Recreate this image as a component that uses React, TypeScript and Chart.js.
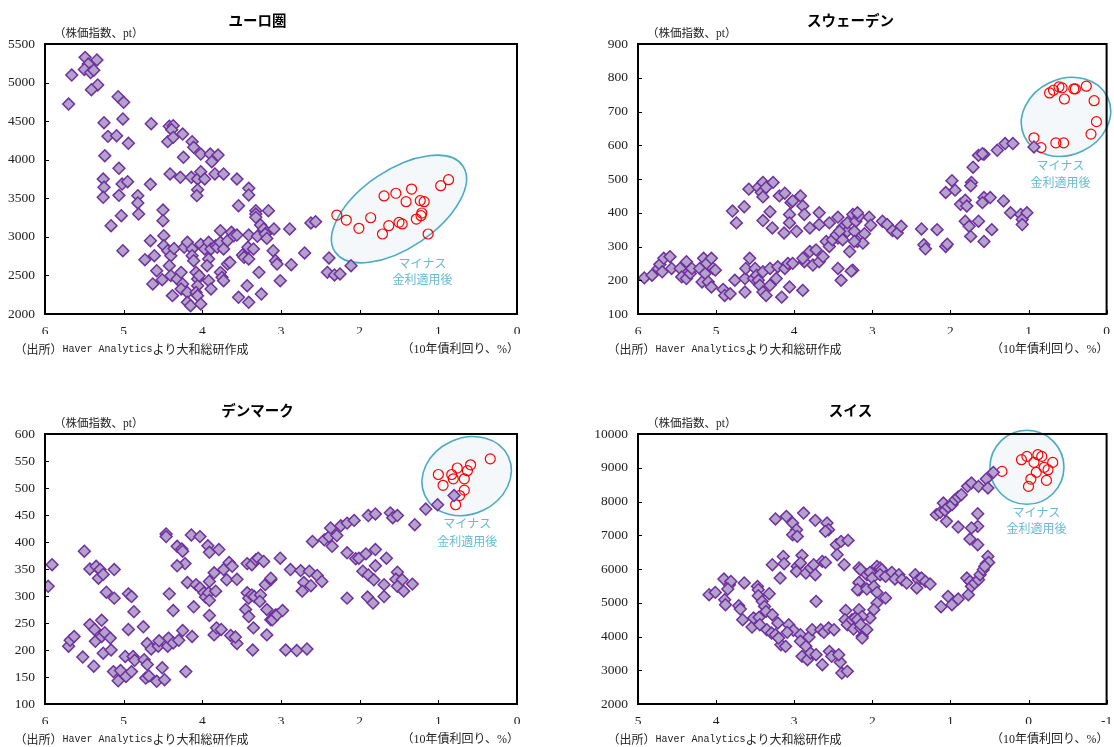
import React, { useEffect, useRef } from 'react';
import { Chart, registerables } from 'chart.js';

Chart.register(...registerables);

type Pt = [number, number];

// ---------------- data (x: 10年債利回り %, y: 株価指数 pt) ----------------
const euroBefore: Pt[] = [
  [5.49,5327],[5.34,5293],[5.66,5098],[5.45,5240],[5.50,5170],[5.42,5130],[5.38,5160],[5.33,4969],[5.41,4908],[5.70,4722],
  [5.07,4817],[5.00,4744],[5.25,4480],[5.01,4528],[5.20,4303],[5.09,4311],[4.94,4213],[5.24,4052],[5.06,3889],[5.26,3750],
  [5.25,3642],[5.26,3513],[5.02,3685],[4.95,3715],[5.06,3538],[4.82,3534],[4.66,3681],[4.65,4467],[4.42,4433],[4.37,4441],
  [4.39,4389],[4.44,4234],[4.37,4290],[4.25,4333],[4.13,4234],[4.11,4161],[4.02,4074],[3.90,4074],[3.80,4061],[3.88,3974],
  [4.24,4031],[4.41,3815],[4.28,3772],[4.14,3772],[4.06,3750],[4.02,3845],[3.97,3750],[3.84,3815],[3.73,3815],[3.56,3750],
  [3.41,3629],[3.41,3543],[4.06,3611],[4.07,3534],[5.03,3274],[5.16,3145],[5.01,2820],[4.82,3439],[4.81,3296],[4.50,3348],
  [4.50,3209],[4.73,2704],[4.66,2950],[4.61,2756],[4.58,2561],[4.63,2389],[4.49,3015],[4.49,2886],[4.44,2820],[4.40,2756],
  [4.42,2626],[4.51,2445],[4.40,2497],[4.38,2238],[4.36,2850],[4.32,2454],[4.27,2540],[4.25,2389],[4.27,2325],[4.23,2865],
  [4.19,2930],[4.13,2843],[4.13,2756],[4.11,2691],[4.19,2280],[4.19,2152],[4.15,2108],[4.08,2540],[4.06,2454],[4.06,2367],
  [4.08,2280],[4.06,2238],[4.02,2130],[4.04,2497],[4.02,2903],[3.97,2843],[3.92,2930],[3.89,2843],[3.83,2886],[3.81,2865],
  [3.77,3080],[3.77,2930],[3.73,2843],[3.92,2713],[3.94,2626],[3.92,2432],[3.89,2325],[3.77,2540],[3.75,2475],[3.73,2432],
  [3.68,2648],[3.65,2670],[3.68,2950],[3.63,3059],[3.60,3015],[3.56,3024],[3.54,2217],[3.54,3404],[3.49,2765],[3.47,2735],
  [3.42,2865],[3.41,2713],[3.43,2367],[3.41,2152],[3.41,3024],[3.35,2843],[3.32,3339],[3.32,3296],[3.32,3253],[3.30,3007],
  [3.28,2540],[3.25,2259],[3.26,3154],[3.22,3102],[3.18,3059],[3.16,3339],[3.09,3102],[3.10,2820],[3.07,2691],[3.05,2648],
  [3.01,2432],[3.20,3037],[3.18,2980],[2.89,3102],[2.87,2639],[2.70,2791],[2.62,3180],[2.56,3197],[2.39,2726],[2.41,2540],
  [2.32,2506],[2.25,2519],[2.11,2626]
];
const euroAfter: Pt[] = [
  [2.29,3283],[2.17,3218],[2.01,3111],[1.86,3248],[1.69,3530],[1.54,3565],[1.34,3620],[1.41,3456],[1.23,3470],[1.18,3456],
  [1.21,3309],[1.22,3274],[1.28,3231],[1.63,3145],[1.71,3037],[1.50,3188],[1.46,3167],[1.13,3037],[0.97,3663],[0.87,3741]
];

const swedenBefore: Pt[] = [
  [5.92,207],[5.82,215],[5.74,235],[5.72,247],[5.67,265],[5.69,225],[5.59,270],[5.57,235],[5.46,235],[5.44,210],
  [5.38,255],[5.38,205],[5.35,225],[5.33,220],[5.31,235],[5.21,235],[5.18,195],[5.16,265],[5.14,220],[5.12,250],
  [5.10,195],[5.06,265],[5.04,235],[5.01,230],[5.06,180],[4.91,173],[4.89,155],[4.82,160],[4.79,405],[4.74,370],
  [4.64,418],[4.76,200],[4.63,205],[4.63,165],[4.62,235],[4.57,265],[4.52,205],[4.58,470],[4.46,475],[4.42,460],
  [4.40,490],[4.36,475],[4.27,490],[4.40,447],[4.40,377],[4.31,403],[4.28,355],[4.50,235],[4.48,215],[4.46,200],
  [4.44,185],[4.40,225],[4.40,165],[4.36,155],[4.31,185],[4.31,235],[4.23,205],[4.21,240],[4.16,150],[4.19,450],
  [4.12,458],[4.13,340],[4.06,395],[4.06,370],[4.04,430],[4.02,435],[3.97,345],[3.92,450],[3.89,420],[3.87,395],
  [3.80,355],[3.68,400],[3.68,365],[3.55,370],[3.44,387],[3.38,357],[3.32,345],[3.44,325],[4.12,235],[4.08,250],
  [4.02,250],[4.06,180],[3.89,170],[3.87,255],[3.89,265],[3.80,285],[3.76,245],[3.72,290],[3.68,255],[3.63,270],
  [3.59,315],[3.55,300],[3.51,320],[3.46,335],[3.42,345],[3.38,320],[3.32,370],[3.25,395],[3.21,375],[3.19,315],
  [3.17,390],[3.44,235],[3.25,230],[3.40,200],[3.19,400],[3.04,387],[3.02,363],[3.23,345],[3.10,338],[3.12,310],
  [3.23,315],[3.29,285],[3.27,227],[2.87,375],[2.81,365],[2.74,347],[2.68,340],[2.63,360],[2.37,352],[2.17,350],
  [2.34,305],[2.32,293],[2.06,300],[2.04,307],[2.06,460],[1.98,495],[1.94,467],[1.73,490],[1.74,480],[1.71,535],
  [1.64,570],[1.57,573],[1.59,575],[1.40,585],[1.30,605],[1.20,605],[1.87,425],[1.81,437],[1.79,420],[1.57,445],
  [1.49,445],[1.59,430],[1.32,435],[1.23,400],[1.81,375],[1.76,360],[1.64,375],[1.74,330],[1.47,350],[1.57,315],
  [1.10,395],[1.08,380],[1.08,365],[1.02,400],[0.93,595]
];
const swedenAfter: Pt[] = [
  [0.93,622],[0.84,593],[0.65,607],[0.55,607],[0.73,755],[0.68,763],[0.61,773],[0.57,770],[0.54,737],[0.42,767],
  [0.40,767],[0.26,775],[0.16,732],[0.13,670],[0.20,633]
];

const denmarkBefore: Pt[] = [
  [5.96,318],[5.91,358],[5.50,383],[5.70,207],[5.68,218],[5.63,225],[5.52,187],[5.43,350],[5.35,355],[5.32,333],
  [5.30,349],[5.26,340],[5.22,307],[5.12,296],[5.12,349],[5.43,247],[5.37,238],[5.36,216],[5.28,255],[5.28,225],
  [5.24,232],[5.17,222],[5.38,170],[5.26,194],[5.16,200],[5.13,160],[5.07,143],[5.04,162],[4.98,188],[4.97,151],
  [4.94,238],[4.94,304],[4.90,299],[4.87,271],[4.90,160],[4.88,188],[4.86,181],[4.75,243],[4.74,182],[4.72,148],
  [4.70,173],[4.70,212],[4.68,152],[4.65,202],[4.58,142],[4.56,207],[4.55,217],[4.51,167],[4.48,145],[4.44,207],
  [4.42,304],[4.43,222],[4.37,213],[4.37,273],[4.30,218],[4.25,236],[4.22,360],[4.21,160],[4.46,415],[4.46,410],
  [4.32,392],[4.26,387],[4.25,383],[4.32,356],[4.19,325],[4.13,225],[4.11,280],[4.14,413],[4.03,410],[4.08,321],
  [4.03,315],[3.98,306],[3.96,298],[3.91,327],[3.92,306],[3.91,292],[3.83,309],[3.85,343],[3.93,393],[3.91,381],
  [3.79,386],[3.73,349],[3.66,362],[3.62,355],[3.69,330],[3.56,331],[3.91,264],[3.85,228],[3.82,241],[3.76,238],
  [3.64,227],[3.56,212],[3.58,224],[3.43,360],[3.43,306],[3.41,296],[3.45,275],[3.41,262],[3.37,358],[3.37,302],
  [3.35,241],[3.34,299],[3.36,200],[3.32,367],[3.29,370],[3.26,302],[3.27,290],[3.22,364],[3.20,321],[3.18,275],
  [3.13,330],[3.18,228],[3.13,256],[3.07,265],[3.01,370],[3.13,333],[3.11,256],[3.05,265],[2.98,273],[2.94,200],
  [2.80,199],[2.67,202],[2.88,349],[2.75,347],[2.64,346],[2.54,338],[2.48,327],[2.71,325],[2.73,309],[2.62,319],
  [2.60,401],[2.45,404],[2.39,410],[2.37,426],[2.29,412],[2.35,392],[2.24,430],[2.16,435],[2.07,440],[2.16,380],
  [2.05,369],[2.01,370],[1.92,378],[1.80,386],[1.66,370],[2.16,296],[1.90,298],[1.83,287],[1.69,299],[1.69,321],
  [1.80,356],[1.96,346],[1.89,339],[1.82,330],[1.89,449],[1.80,452],[1.61,454],[1.58,445],[1.52,449],[1.30,432],
  [1.16,461],[1.01,469],[1.52,344],[1.54,331],[1.46,330],[1.52,318],[1.44,309],[1.33,322],[0.80,486]
];
const denmarkAfter: Pt[] = [
  [1.00,525],[0.94,505],[0.83,525],[0.76,537],[0.81,517],[0.67,517],[0.63,532],[0.59,543],[0.67,496],[0.73,486],
  [0.78,469],[0.34,554]
];

const swissBefore: Pt[] = [
  [4.09,5238],[4.01,5307],[3.90,5703],[3.83,5535],[3.81,5633],[3.85,5407],[3.89,5090],[3.88,4942],[3.71,4912],[3.69,4814],
  [3.66,4498],[3.64,5586],[3.54,4281],[3.52,4548],[3.47,5485],[3.46,5387],[3.46,5209],[3.41,5041],[3.38,4892],[3.36,4744],
  [3.32,5268],[3.28,4646],[3.45,4568],[3.44,4350],[3.35,4202],[3.29,4103],[3.24,7482],[3.10,7560],[3.02,7363],[2.97,7165],
  [3.02,7016],[2.96,6966],[2.88,7659],[2.73,7441],[2.58,7363],[2.56,7165],[2.60,7115],[2.46,6720],[2.40,6818],[2.31,6848],
  [2.36,6127],[3.28,6127],[3.14,6373],[3.13,6157],[3.18,5733],[2.96,6077],[2.97,5929],[2.90,6403],[2.92,6180],[2.85,5881],
  [2.79,6030],[2.75,6127],[2.73,5831],[2.64,6225],[2.60,6196],[2.45,6423],[2.72,5041],[3.07,4350],[3.01,4182],[2.92,4054],
  [2.92,3857],[2.85,3708],[2.90,3412],[2.83,3313],[2.79,3511],[2.81,3985],[2.77,4202],[2.72,3461],[2.66,4202],[2.62,4123],
  [2.64,3165],[2.56,4251],[2.49,4202],[2.55,3560],[2.52,3412],[2.41,3235],[2.43,3461],[2.39,2918],[2.32,2967],[2.34,4773],
  [2.35,4498],[2.32,4350],[2.26,4498],[2.22,4548],[2.24,4222],[3.24,4054],[3.21,4400],[3.17,3757],[3.11,3708],[3.09,4123],
  [3.20,3955],[2.17,6030],[2.17,5585],[2.17,5387],[2.17,4793],[2.15,4251],[2.13,4004],[2.15,5978],[2.07,5831],[2.03,5900],
  [1.94,6077],[1.90,6030],[1.88,5978],[2.17,5604],[2.19,5387],[2.07,5407],[2.00,5733],[1.98,5485],[1.94,5307],[1.90,5831],
  [1.83,5781],[1.75,5900],[1.66,5831],[1.71,5704],[1.62,5683],[1.56,5585],[1.45,5831],[1.41,5683],[1.37,5733],[1.43,5437],
  [1.32,5633],[1.26,5555],[1.83,5141],[1.94,4993],[1.98,4793],[2.03,4548],[2.13,4596],[2.19,4498],[2.15,4350],[2.07,4202],
  [2.13,3955],[1.12,4882],[1.03,5189],[0.98,4942],[0.90,5111],[0.77,5238],[0.79,5733],[0.75,5633],[0.73,5485],[0.69,5585],
  [0.64,5683],[0.62,5831],[0.58,5978],[0.54,6157],[0.52,6373],[0.51,6196],[0.56,6077],[0.65,7639],[0.65,7264],[0.75,6889],
  [0.90,7244],[0.73,7215],[0.65,6720],[1.18,7610],[1.13,7678],[1.09,7955],[1.07,7737],[1.05,7412],[1.03,7837],[0.98,7906],
  [0.94,8054],[0.90,8133],[0.86,8202],[0.78,8449],[0.73,8548],[0.64,8449],[0.54,8667],[0.52,8400],[0.45,8863]
];
const swissAfter: Pt[] = [
  [0.34,8892],[0.09,9238],[0.02,9337],[-0.07,9159],[-0.12,9387],[-0.17,9337],[-0.31,9159],[-0.20,9011],[-0.25,8942],
  [-0.10,8863],[-0.03,8665],[-0.23,8625],[0.00,8448]
];

// ---------------- tick labels ----------------
const xTicks0to6 = [0, 1, 2, 3, 4, 5, 6];
const xTicksM1to5 = [-1, 0, 1, 2, 3, 4, 5];
const euroYTicks = [2000, 2500, 3000, 3500, 4000, 4500, 5000, 5500];
const swedenYTicks = [100, 200, 300, 400, 500, 600, 700, 800, 900];
const denmarkYTicks = [100, 150, 200, 250, 300, 350, 400, 450, 500, 550, 600];
const swissYTicks = [2000, 3000, 4000, 5000, 6000, 7000, 8000, 9000, 10000];

// ---------------- texts ----------------
const titles = ['ユーロ圏', 'スウェーデン', 'デンマーク', 'スイス'];
const yAxisLabel = '（株価指数、pt）';
const xAxisLabel = '（10年債利回り、%）';
const sourceParts = ['（出所）', 'Haver Analytics', 'より大和総研作成'];
const noteLine1 = 'マイナス';
const noteLine2 = '金利適用後';

const SERIF = "'Liberation Serif', 'Times New Roman', 'Noto Sans CJK JP', serif";
const JP = "'Noto Sans CJK JP', sans-serif";
const MONO = "'Liberation Mono', 'DejaVu Sans Mono', monospace";

interface EllipseSpec { cx: number; cy: number; rx: number; ry: number; rot: number; tdx: number; tdy1: number; tdy2: number; }
interface PanelSpec {
  title: string; before: Pt[]; after: Pt[]; xTicks: number[]; yTicks: number[];
  ellipse: EllipseSpec; left: number; top: number; width: number; height: number;
  padding: { left: number; right: number; top: number; bottom: number };
}

const panels: PanelSpec[] = [
  { title: titles[0], before: euroBefore, after: euroAfter, xTicks: xTicks0to6, yTicks: euroYTicks,
    ellipse: { cx: 1.50, cy: 3361, rx: 77, ry: 39, rot: -34, tdx: 23.5, tdy1: 54, tdy2: 70 },
    left: 0, top: 0, width: 557, height: 373, padding: { left: 0, right: 40, top: 44, bottom: 39 } },
  { title: titles[1], before: swedenBefore, after: swedenAfter, xTicks: xTicks0to6, yTicks: swedenYTicks,
    ellipse: { cx: 0.52, cy: 684, rx: 46, ry: 38, rot: -25, tdx: -5.5, tdy1: 49, tdy2: 66 },
    left: 557, top: 0, width: 557, height: 373, padding: { left: 36, right: 5, top: 44, bottom: 39 } },
  { title: titles[2], before: denmarkBefore, after: denmarkAfter, xTicks: xTicks0to6, yTicks: denmarkYTicks,
    ellipse: { cx: 0.64, cy: 522, rx: 46, ry: 38, rot: -25, tdx: 0.5, tdy1: 47, tdy2: 65 },
    left: 0, top: 373, width: 557, height: 374, padding: { left: 0, right: 40, top: 61, bottom: 23 } },
  { title: titles[3], before: swissBefore, after: swissAfter, xTicks: xTicksM1to5, yTicks: swissYTicks,
    ellipse: { cx: 0.02, cy: 9013, rx: 37, ry: 37, rot: 0, tdx: 9.5, tdy1: 45.5, tdy2: 61 },
    left: 557, top: 373, width: 557, height: 374, padding: { left: 36, right: 5, top: 61, bottom: 23 } },
];

const decorPlugin = {
  id: 'decor',
  beforeDatasetsDraw(chart: any) {
    const spec: PanelSpec = chart.$spec;
    const e = spec.ellipse;
    const { ctx, scales } = chart;
    const cx = scales.x.getPixelForValue(e.cx);
    const cy = scales.y.getPixelForValue(e.cy);
    ctx.save();
    ctx.beginPath();
    ctx.ellipse(cx, cy, e.rx, e.ry, (e.rot * Math.PI) / 180, 0, Math.PI * 2);
    ctx.fillStyle = '#f4f8fb';
    ctx.fill();
    ctx.lineWidth = 1.6;
    ctx.strokeStyle = '#4aaac4';
    ctx.stroke();
    ctx.fillStyle = '#66bad0';
    ctx.font = `12px ${JP}`;
    ctx.textAlign = 'center';
    ctx.textBaseline = 'middle';
    ctx.fillText(noteLine1, cx + e.tdx, cy + e.tdy1);
    ctx.fillText(noteLine2, cx + e.tdx, cy + e.tdy2);
    ctx.restore();
  },
  afterDraw(chart: any) {
    const spec: PanelSpec = chart.$spec;
    const { ctx, chartArea: a, scales } = chart;
    ctx.save();
    ctx.lineWidth = 2;
    ctx.strokeStyle = '#000';
    ctx.strokeRect(a.left, a.top, a.right - a.left, a.bottom - a.top);
    // small inward tick marks
    ctx.lineWidth = 1;
    ctx.beginPath();
    spec.xTicks.forEach((v) => {
      const px = Math.round(scales.x.getPixelForValue(v)) + 0.5;
      ctx.moveTo(px, a.bottom);
      ctx.lineTo(px, a.bottom - 4);
    });
    spec.yTicks.forEach((v) => {
      const py = Math.round(scales.y.getPixelForValue(v)) + 0.5;
      ctx.moveTo(a.left, py);
      ctx.lineTo(a.left + 4, py);
    });
    ctx.stroke();

    ctx.fillStyle = '#000';
    ctx.textBaseline = 'middle';
    ctx.textAlign = 'center';
    ctx.font = `bold 14.5px ${JP}`;
    ctx.fillText(spec.title, a.left + 212.5, a.top - 23.3);
    ctx.fillStyle = '#222';
    ctx.textAlign = 'left';
    ctx.font = `11.5px ${SERIF}`;
    ctx.fillText(yAxisLabel, a.left + 9, a.top - 10);
    // source note: Japanese + monospace latin segment
    let x = a.left - 30.5;
    const y = a.bottom + 35.5;
    const fonts = [`12px ${JP}`, `10px ${MONO}`, `12px ${JP}`];
    sourceParts.forEach((s, i) => {
      ctx.font = fonts[i];
      ctx.fillText(s, x, y);
      x += ctx.measureText(s).width;
    });
    ctx.font = `12px ${SERIF}`;
    ctx.textAlign = 'right';
    ctx.fillText(xAxisLabel, a.right + 2, y);
    ctx.restore();
  },
};

function Panel({ spec }: { spec: PanelSpec }) {
  const ref = useRef<HTMLCanvasElement>(null);
  useEffect(() => {
    if (!ref.current) return;
    const tickFont = { family: SERIF, size: 13.5 };
    const chart: any = new Chart(ref.current, {
      type: 'scatter',
      data: {
        datasets: [
          {
            data: spec.before.map(([x, y]) => ({ x, y })),
            pointStyle: 'rectRot',
            pointRadius: 5.9,
            pointBackgroundColor: '#b3a2c9',
            pointBorderColor: '#7030a0',
            pointBorderWidth: 1.5,
          },
          {
            data: spec.after.map(([x, y]) => ({ x, y })),
            pointStyle: 'circle',
            pointRadius: 5,
            pointBackgroundColor: 'rgba(255,255,255,0)',
            pointBorderColor: '#ff0000',
            pointBorderWidth: 1.2,
          },
        ],
      } as any,
      options: {
        animation: false,
        responsive: false,
        events: [],
        layout: { padding: spec.padding },
        plugins: { legend: { display: false }, tooltip: { enabled: false }, title: { display: false } },
        scales: {
          x: {
            type: 'linear',
            reverse: true,
            min: spec.xTicks[0],
            max: spec.xTicks[spec.xTicks.length - 1],
            grid: { display: false, drawTicks: false },
            border: { display: false },
            ticks: { font: tickFont, color: '#222', padding: 9, maxRotation: 0, callback: (v: any) => String(v) },
            afterBuildTicks: (axis: any) => { axis.ticks = spec.xTicks.map((v) => ({ value: v })); },
            afterFit: (s: any) => { s.height = 20; },
          },
          y: {
            type: 'linear',
            min: spec.yTicks[0],
            max: spec.yTicks[spec.yTicks.length - 1],
            grid: { display: false, drawTicks: false },
            border: { display: false },
            ticks: { font: tickFont, color: '#222', padding: 10, callback: (v: any) => String(v) },
            afterBuildTicks: (axis: any) => { axis.ticks = spec.yTicks.map((v) => ({ value: v })); },
            afterFit: (s: any) => { s.width = 45; },
          },
        },
      } as any,
      plugins: [
        {
          id: 'specAttach',
          beforeInit(c: any) { c.$spec = spec; },
        },
        decorPlugin,
      ] as any,
    });
    return () => chart.destroy();
  }, [spec]);
  return (
    <canvas
      ref={ref}
      width={spec.width}
      height={spec.height}
      style={{ position: 'absolute', left: spec.left, top: spec.top, width: spec.width, height: spec.height }}
    />
  );
}

export default function App() {
  return (
    <div style={{ position: 'absolute', left: 0, top: 0, width: 1114, height: 747, background: '#fff' }}>
      {panels.map((p, i) => (
        <Panel key={i} spec={p} />
      ))}
    </div>
  );
}
